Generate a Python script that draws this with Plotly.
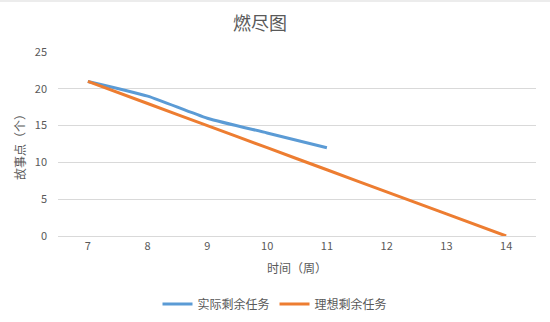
import plotly.graph_objects as go

weeks = ["7", "8", "9", "10", "11", "12", "13", "14"]
actual_weeks = ["7", "8", "9", "10", "11"]
actual_remaining = [21, 19, 16, 14, 12]
ideal_remaining = [21, 18, 15, 12, 9, 6, 3, 0]
y_ticks = [0, 5, 10, 15, 20, 25]

FONT = "Noto Sans CJK SC"
GRAY = "#595959"
W, H = 550, 322
M_L, M_R, M_T, M_B = 58, 14, 52, 86
PLOT_H = H - M_T - M_B

fig = go.Figure()
fig.add_trace(go.Scatter(
    x=actual_weeks, y=actual_remaining, name="实际剩余任务", mode="lines",
    line=dict(color="#5B9BD5", width=3, shape="spline", smoothing=0.6),
))
fig.add_trace(go.Scatter(
    x=weeks, y=ideal_remaining, name="理想剩余任务", mode="lines",
    line=dict(color="#ED7D31", width=3, shape="spline", smoothing=0.6),
))

fig.update_layout(
    width=W, height=H,
    margin=dict(l=M_L, r=M_R, t=M_T, b=M_B, autoexpand=False),
    paper_bgcolor="white", plot_bgcolor="white",
    font=dict(family=FONT, color=GRAY, size=11),
    title=dict(text="燃尽图", x=260 / W, xanchor="center", xref="container",
               y=1 - 24 / H, yanchor="middle",
               font=dict(size=18, color=GRAY, family=FONT)),
    showlegend=True,
    legend=dict(orientation="h", x=0.5, xanchor="center", xref="container",
                y=18 / H, yanchor="middle", yref="container",
                font=dict(size=12, color=GRAY), tracegroupgap=0),
    # thin frame line along the top edge of the chart
    shapes=[dict(type="line", xref="paper", yref="paper", x0=-M_L / 478, x1=1 + M_R / 478,
                 y0=1 + (M_T - 1) / PLOT_H, y1=1 + (M_T - 1) / PLOT_H,
                 line=dict(color="#d9d9d9", width=1))],
)
fig.update_xaxes(
    type="category", categoryorder="array", categoryarray=weeks,
    range=[-0.5, 7.5], showgrid=False, showline=True, linecolor="#d9d9d9",
    linewidth=1, ticks="", tickfont=dict(size=11, color=GRAY), automargin=False,
    title=dict(text="时间（周）", font=dict(size=12, color=GRAY), standoff=12),
)
fig.update_yaxes(
    range=[0, 25], tickvals=y_ticks, showgrid=True, gridcolor="#d9d9d9",
    gridwidth=1, zeroline=False, showline=False, ticks="", automargin=False,
    tickfont=dict(size=11, color=GRAY), ticklabelstandoff=10,
    title=dict(text="故事点（个）", font=dict(size=12, color=GRAY), standoff=6),
)

fig.write_html("out.html")
